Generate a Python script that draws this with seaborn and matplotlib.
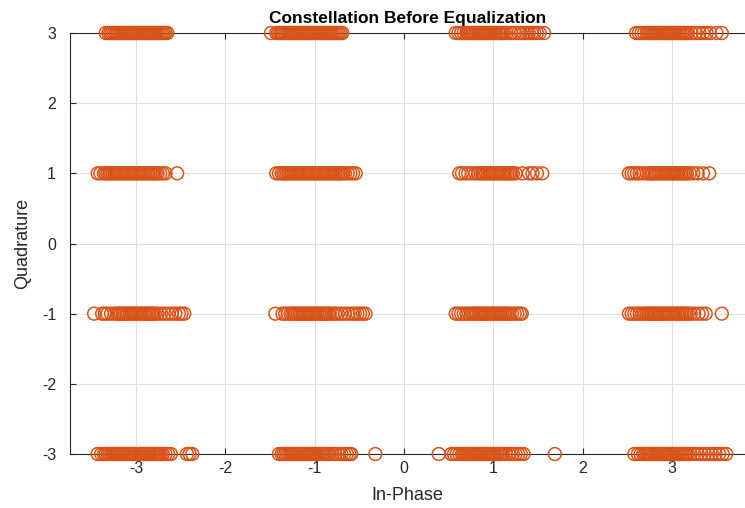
import numpy as np
import pandas as pd
import matplotlib
matplotlib.use("Agg")
import matplotlib.pyplot as plt
import seaborn as sns

# In-phase samples of each received cluster (quadrature stays at the ideal level)
x_m3_p3 = [-3.34, -3.31, -3.29, -3.27, -3.25, -3.23, -3.21, -3.19, -3.17, -3.15, -3.13, -3.11, -3.09, -3.07, -3.05, -3.03, -3.01, -2.99, -2.97, -2.95, -2.93, -2.91, -2.89, -2.87, -2.85, -2.83, -2.81, -2.79, -2.77, -2.75, -2.73, -2.71, -2.69, -2.67, -2.65]
x_m1_p3 = [-1.49, -1.43, -1.41, -1.39, -1.37, -1.35, -1.33, -1.31, -1.29, -1.27, -1.25, -1.23, -1.21, -1.19, -1.17, -1.15, -1.13, -1.11, -1.09, -1.07, -1.05, -1.03, -1.01, -0.99, -0.97, -0.95, -0.93, -0.91, -0.89, -0.87, -0.85, -0.83, -0.81, -0.79, -0.77, -0.75, -0.73, -0.71, -0.69]
x_p1_p3 = [0.58, 0.61, 0.64, 0.67, 0.70, 0.72, 0.74, 0.76, 0.78, 0.80, 0.82, 0.84, 0.86, 0.88, 0.90, 0.92, 0.94, 0.96, 0.98, 1.00, 1.02, 1.04, 1.06, 1.08, 1.10, 1.12, 1.15, 1.20, 1.24, 1.28, 1.31, 1.34, 1.37, 1.40, 1.43, 1.46, 1.49, 1.52, 1.57]
x_p3_p3 = [2.60, 2.63, 2.66, 2.69, 2.72, 2.74, 2.76, 2.78, 2.80, 2.82, 2.84, 2.86, 2.88, 2.90, 2.92, 2.94, 2.96, 2.98, 3.00, 3.02, 3.04, 3.06, 3.08, 3.10, 3.12, 3.14, 3.16, 3.18, 3.22, 3.27, 3.31, 3.35, 3.39, 3.43, 3.50, 3.56]

x_m3_p1 = [-3.43, -3.40, -3.36, -3.34, -3.32, -3.30, -3.28, -3.26, -3.24, -3.22, -3.20, -3.18, -3.16, -3.14, -3.12, -3.10, -3.08, -3.06, -3.04, -3.02, -3.00, -2.98, -2.96, -2.94, -2.92, -2.90, -2.88, -2.86, -2.84, -2.82, -2.80, -2.78, -2.76, -2.73, -2.70, -2.67, -2.54]
x_m1_p1 = [-1.43, -1.40, -1.37, -1.35, -1.33, -1.31, -1.29, -1.27, -1.25, -1.23, -1.21, -1.19, -1.17, -1.15, -1.13, -1.11, -1.09, -1.07, -1.05, -1.03, -1.01, -0.99, -0.97, -0.95, -0.93, -0.91, -0.89, -0.87, -0.85, -0.83, -0.81, -0.79, -0.77, -0.75, -0.73, -0.71, -0.69, -0.66, -0.63, -0.60, -0.57, -0.54]
x_p1_p1 = [0.62, 0.65, 0.69, 0.72, 0.76, 0.80, 0.83, 0.86, 0.88, 0.90, 0.92, 0.94, 0.96, 0.98, 1.00, 1.02, 1.04, 1.06, 1.08, 1.10, 1.12, 1.14, 1.16, 1.18, 1.20, 1.22, 1.25, 1.33, 1.40, 1.44, 1.49, 1.55]
x_p3_p1 = [2.52, 2.55, 2.58, 2.61, 2.64, 2.68, 2.72, 2.75, 2.77, 2.79, 2.81, 2.83, 2.85, 2.87, 2.89, 2.91, 2.93, 2.95, 2.97, 2.99, 3.01, 3.03, 3.05, 3.07, 3.09, 3.11, 3.13, 3.15, 3.17, 3.20, 3.24, 3.29, 3.35, 3.42]

x_m3_m1 = [-3.47, -3.38, -3.35, -3.32, -3.28, -3.24, -3.21, -3.19, -3.17, -3.15, -3.13, -3.11, -3.09, -3.07, -3.05, -3.03, -3.01, -2.99, -2.97, -2.95, -2.93, -2.91, -2.89, -2.87, -2.85, -2.83, -2.81, -2.79, -2.76, -2.72, -2.68, -2.64, -2.60, -2.56, -2.52, -2.49, -2.46]
x_m1_m1 = [-1.44, -1.36, -1.33, -1.30, -1.27, -1.25, -1.23, -1.21, -1.19, -1.17, -1.15, -1.13, -1.11, -1.09, -1.07, -1.05, -1.03, -1.01, -0.99, -0.97, -0.95, -0.93, -0.91, -0.89, -0.87, -0.85, -0.83, -0.80, -0.77, -0.74, -0.70, -0.66, -0.62, -0.58, -0.55, -0.52, -0.49, -0.46, -0.43]
x_p1_m1 = [0.58, 0.61, 0.64, 0.67, 0.70, 0.73, 0.76, 0.78, 0.80, 0.82, 0.84, 0.86, 0.88, 0.90, 0.92, 0.94, 0.96, 0.98, 1.00, 1.02, 1.04, 1.06, 1.08, 1.10, 1.12, 1.14, 1.16, 1.18, 1.21, 1.24, 1.27, 1.30, 1.32]
x_p3_m1 = [2.52, 2.55, 2.58, 2.61, 2.64, 2.67, 2.70, 2.72, 2.74, 2.76, 2.78, 2.80, 2.82, 2.84, 2.86, 2.88, 2.90, 2.92, 2.94, 2.96, 2.98, 3.00, 3.02, 3.04, 3.06, 3.08, 3.10, 3.12, 3.14, 3.16, 3.18, 3.21, 3.25, 3.30, 3.34, 3.38, 3.56]

x_m3_m3 = [-3.43, -3.39, -3.36, -3.34, -3.32, -3.30, -3.28, -3.26, -3.24, -3.22, -3.20, -3.18, -3.16, -3.14, -3.12, -3.10, -3.08, -3.06, -3.04, -3.02, -3.00, -2.98, -2.96, -2.94, -2.92, -2.90, -2.88, -2.86, -2.84, -2.82, -2.80, -2.78, -2.76, -2.74, -2.72, -2.70, -2.67, -2.64, -2.61, -2.43, -2.40, -2.37]
x_m1_m3 = [-1.40, -1.37, -1.35, -1.33, -1.31, -1.29, -1.27, -1.25, -1.23, -1.21, -1.19, -1.17, -1.15, -1.13, -1.11, -1.09, -1.07, -1.05, -1.03, -1.01, -0.99, -0.97, -0.95, -0.93, -0.91, -0.89, -0.87, -0.85, -0.83, -0.80, -0.77, -0.73, -0.70, -0.67, -0.64, -0.61, -0.59, -0.32]
x_p1_m3 = [0.39, 0.53, 0.56, 0.59, 0.62, 0.65, 0.67, 0.69, 0.71, 0.73, 0.75, 0.77, 0.79, 0.81, 0.83, 0.85, 0.87, 0.89, 0.91, 0.93, 0.95, 0.97, 0.99, 1.01, 1.03, 1.05, 1.07, 1.09, 1.11, 1.14, 1.18, 1.22, 1.25, 1.28, 1.31, 1.34, 1.69]
x_p3_m3 = [2.58, 2.62, 2.65, 2.68, 2.70, 2.72, 2.74, 2.76, 2.78, 2.80, 2.82, 2.84, 2.86, 2.88, 2.90, 2.92, 2.94, 2.96, 2.98, 3.00, 3.02, 3.04, 3.06, 3.08, 3.10, 3.12, 3.14, 3.16, 3.18, 3.21, 3.25, 3.29, 3.33, 3.37, 3.41, 3.45, 3.49, 3.53, 3.57, 3.61]

q_levels = [3, 3, 3, 3, 1, 1, 1, 1, -1, -1, -1, -1, -3, -3, -3, -3]
clusters = [x_m3_p3, x_m1_p3, x_p1_p3, x_p3_p3,
            x_m3_p1, x_m1_p1, x_p1_p1, x_p3_p1,
            x_m3_m1, x_m1_m1, x_p1_m1, x_p3_m1,
            x_m3_m3, x_m1_m3, x_p1_m3, x_p3_m3]

x_ticks = [-3, -2, -1, 0, 1, 2, 3]
y_ticks = [-3, -2, -1, 0, 1, 2, 3]

rows = []
for xs, q in zip(clusters, q_levels):
    for v in xs:
        rows.append((v, q))
df = pd.DataFrame(rows, columns=["In-Phase", "Quadrature"])

sns.set_theme(style="whitegrid")
plt.rcParams['font.family'] = ['Liberation Sans', 'DejaVu Sans']

fig = plt.figure(figsize=(7.45, 5.08), dpi=100)
ax = fig.add_axes([70 / 745, 1 - 454 / 508, 1 - 70 / 745, (454 - 33) / 508])

orange = "#D95319"
sns.scatterplot(data=df, x="In-Phase", y="Quadrature", ax=ax,
                marker="o", s=85, facecolors="none", edgecolor=orange,
                linewidth=1.1, legend=False, zorder=3, clip_on=False)

ax.set_xlim(-3.74, 3.82)
ax.set_ylim(-3, 3)
ax.set_xticks(x_ticks)
ax.set_yticks(y_ticks)
ax.set_xticklabels([str(t) for t in x_ticks])
ax.set_yticklabels([str(t) for t in y_ticks])
ax.grid(True, color="#dfdfdf", linewidth=0.8)
ax.set_facecolor("white")
for side in ["left", "bottom", "top"]:
    ax.spines[side].set_visible(True)
    ax.spines[side].set_color("#262626")
    ax.spines[side].set_linewidth(0.8)
    ax.spines[side].set_zorder(2)
ax.spines["right"].set_visible(False)
ax.tick_params(axis="both", direction="in", length=4, width=0.8, colors="#262626",
               labelsize=11.5, labelcolor="#262626", top=True, bottom=True, left=True)
ax.tick_params(axis="x", pad=5)
ax.tick_params(axis="y", pad=10)
ax.set_xlabel("In-Phase", fontsize=13, color="#262626", labelpad=8)
ax.set_ylabel("Quadrature", fontsize=13, color="#262626", labelpad=8)
ax.set_title("Constellation Before Equalization", fontsize=12.5, fontweight="bold",
             color="black", pad=7)

fig.savefig("out.png", dpi=100, facecolor="white")
